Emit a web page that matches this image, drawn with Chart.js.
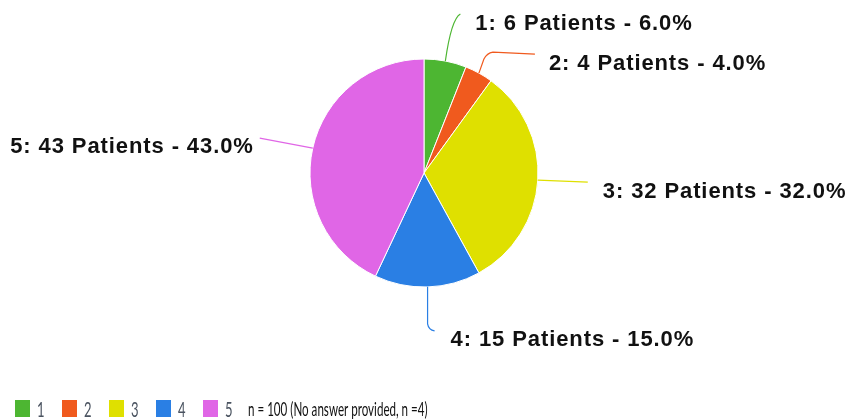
<!DOCTYPE html>
<html>
<head>
<meta charset="utf-8">
<script src="https://cdn.jsdelivr.net/npm/chart.js@4"></script>
<style>
  html, body { margin: 0; padding: 0; background: #fff; }
  #wrap { width: 846px; height: 419px; position: relative; }
</style>
</head>
<body>
<div id="wrap"><canvas id="pieChart"></canvas></div>
<script>
// dados do gráfico
const categories = ["1", "2", "3", "4", "5"];
const patients = [6, 4, 32, 15, 43];
const sliceColors = ["#4db632", "#f05a1e", "#dfe000", "#2a7fe4", "#e066e6"];
const footNote = "n = 100 (No answer provided, n =4)";

// forma das linhas e posição dos rótulos (relativo ao ponto na borda)
const labelStyle = [
  { path: [["q", 6, -42, 15, -47]], tx: 30, ty: -37, align: "left" },
  { path: [["l", 5, -14], ["q", 8, -20, 14, -21], ["l", 56, -19]], tx: 70, ty: -9, align: "left" },
  { path: [["l", 50, 2]], tx: 65, ty: 12, align: "left" },
  { path: [["l", 0, 37], ["q", 1, 43, 7, 44]], tx: 23, ty: 53, align: "left" },
  { path: [["l", -53, -10]], tx: -59, ty: -1, align: "right" }
];

const total = patients.reduce((a, b) => a + b, 0);

// texto estreito (a legenda original é bem comprimida)
function narrowText(ctx, text, x, y, sx) {
  ctx.save();
  ctx.translate(x, y);
  ctx.scale(sx, 1);
  ctx.fillText(text, 0, 0);
  ctx.restore();
}

const labelsPlugin = {
  id: "pieLabels",
  afterDraw(chart) {
    const ctx = chart.ctx;
    const meta = chart.getDatasetMeta(0);
    meta.data.forEach((arc, i) => {
      const p = arc.getProps(["x", "y", "startAngle", "endAngle", "outerRadius"], true);
      const mid = (p.startAngle + p.endAngle) / 2;
      const ex = p.x + Math.cos(mid) * p.outerRadius;
      const ey = p.y + Math.sin(mid) * p.outerRadius;
      const st = labelStyle[i];

      // linha guia
      ctx.save();
      ctx.strokeStyle = sliceColors[i];
      ctx.lineWidth = 1.2;
      ctx.beginPath();
      ctx.moveTo(ex, ey);
      st.path.forEach(seg => {
        if (seg[0] === "l") ctx.lineTo(ex + seg[1], ey + seg[2]);
        else ctx.quadraticCurveTo(ex + seg[1], ey + seg[2], ex + seg[3], ey + seg[4]);
      });
      ctx.stroke();

      // rótulo
      const pct = (patients[i] / total * 100).toFixed(1);
      const text = categories[i] + ": " + patients[i] + " Patients - " + pct + "%";
      ctx.font = "bold 22px 'Liberation Sans', Arial, sans-serif";
      ctx.letterSpacing = "0.9px";
      ctx.fillStyle = "#111";
      ctx.textAlign = st.align;
      ctx.textBaseline = "middle";
      ctx.fillText(text, ex + st.tx, ey + st.ty);
      ctx.restore();
    });

    // legenda embaixo
    ctx.save();
    ctx.textBaseline = "alphabetic";
    ctx.textAlign = "left";
    categories.forEach((c, i) => {
      const x = 15 + i * 47;
      ctx.fillStyle = sliceColors[i];
      ctx.fillRect(x, 400, 15, 17);
      ctx.fillStyle = "#4a5360";
      ctx.font = "21px Lato, 'Open Sans', sans-serif";
      narrowText(ctx, c, x + 22, 417, 0.62);
    });
    ctx.fillStyle = "#111";
    ctx.font = "20px Lato, 'Open Sans', sans-serif";
    narrowText(ctx, footNote, 248, 416, 0.58);
    ctx.restore();
  }
};

function createChart() {
  const ctx = document.getElementById("pieChart").getContext("2d");
  window.pieChart = new Chart(ctx, {
    type: "pie",
    data: {
      labels: categories,
      datasets: [{
        data: patients,
        backgroundColor: sliceColors,
        borderColor: "#ffffff",
        borderWidth: 1,
        radius: 114
      }]
    },
    options: {
      responsive: true,
      maintainAspectRatio: false,
      animation: false,
      layout: { padding: { left: 2, right: 0, top: 0, bottom: 73 } },
      plugins: {
        legend: { display: false },
        tooltip: { enabled: false }
      }
    },
    plugins: [labelsPlugin]
  });
}

createChart();
</script>
</body>
</html>
